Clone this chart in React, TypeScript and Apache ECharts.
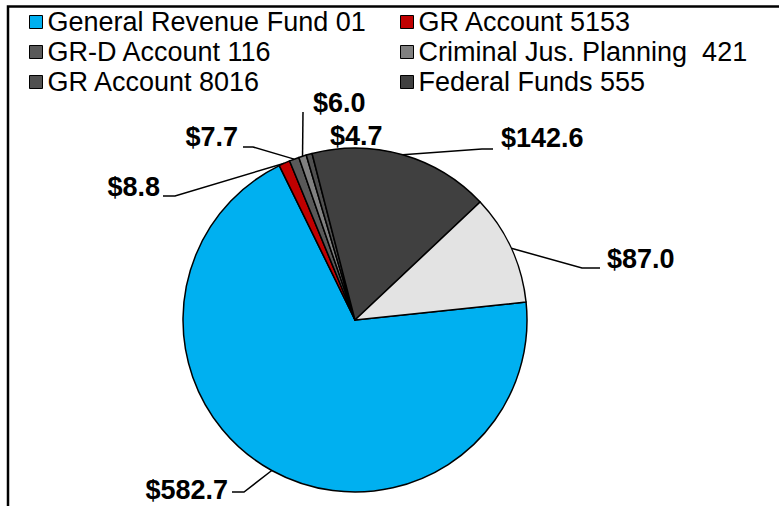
import React, { useEffect, useRef } from "react";
import * as echarts from "echarts";

// ---- data ----
const categories = [
  "General Revenue Fund 01",
  "GR Account 5153",
  "GR-D Account 116",
  "Criminal Jus. Planning  421",
  "GR Account 8016",
  "Federal Funds 555",
  "Other Funds",
];
const values = [582.7, 8.8, 7.7, 6.0, 4.7, 142.6, 87.0];
const labelTexts = ["$582.7", "$8.8", "$7.7", "$6.0", "$4.7", "$142.6", "$87.0"];
const legendCol1 = [categories[0], categories[2], categories[4]];
const legendCol2 = [categories[1], categories[3], categories[5]];

// ---- styles / layout ----
const colors = ["#00B0F0", "#C00000", "#595959", "#808080", "#505050", "#404040", "#E3E3E3"];
const CX = 355;
const CY = 320;
const R = 172;
const START = 6;
// label text anchor and leader-line bends (pixels)
const labelPlace: { tx: number; ty: number; align: string; bends: number[][] | null }[] = [
  { tx: 228, ty: 490, align: "right", bends: [[244, 492], [232, 492]] },
  { tx: 160, ty: 187, align: "right", bends: [[175, 196], [163, 196]] },
  { tx: 238, ty: 137, align: "right", bends: [[253, 147], [243, 147]] },
  { tx: 313, ty: 103, align: "left", bends: [[303, 112]] },
  { tx: 330, ty: 136, align: "left", bends: null },
  { tx: 501, ty: 138, align: "left", bends: [[482, 149], [493, 149]] },
  { tx: 607, ty: 259, align: "left", bends: [[582, 268], [600, 268]] },
];

export default function App() {
  const ref = useRef<HTMLDivElement>(null);
  useEffect(() => {
    if (!ref.current) return;
    const chart = echarts.init(ref.current, null, { renderer: "svg" });
    const total = values.reduce((a, b) => a + b, 0);
    const midAngles: number[] = [];
    let acc = START;
    values.forEach((v) => {
      const span = (v / total) * 360;
      midAngles.push(acc - span / 2);
      acc -= span;
    });

    const font = "'Liberation Sans', Arial, sans-serif";
    const legendBase = {
      orient: "vertical",
      padding: 0,
      itemWidth: 13,
      itemHeight: 13,
      itemGap: 0,
      icon: "rect",
      itemStyle: { borderColor: "#000", borderWidth: 1 },
      textStyle: { fontSize: 27, fontFamily: font, color: "#000", lineHeight: 30 },
      selectedMode: false,
    };

    chart.setOption({
      animation: false,
      backgroundColor: "#fff",
      legend: [
        { ...legendBase, left: 29, top: 7, data: legendCol1 },
        { ...legendBase, left: 400, top: 7, data: legendCol2 },
      ],
      graphic: [
        {
          type: "rect",
          shape: { x: 8, y: 6.5, width: 900, height: 600 },
          style: { fill: "none", stroke: "#000", lineWidth: 2.5 },
          silent: true,
        },
      ],
      series: [
        {
          type: "pie",
          center: [CX, CY],
          radius: R,
          startAngle: START,
          clockwise: true,
          avoidLabelOverlap: false,
          silent: true,
          itemStyle: { borderColor: "#000", borderWidth: 1.5 },
          label: {
            show: true,
            position: "outside",
            fontSize: 27,
            fontWeight: "bold",
            fontFamily: font,
            color: "#000",
            formatter: (p: any) => labelTexts[p.dataIndex],
          },
          labelLine: { show: true, lineStyle: { color: "#000", width: 1.5 } },
          labelLayout: (p: any) => {
            const i = p.dataIndex;
            const lp = labelPlace[i];
            const a = (midAngles[i] * Math.PI) / 180;
            const edge = [CX + R * Math.cos(a), CY - R * Math.sin(a)];
            const out: any = {
              x: lp.tx,
              y: lp.ty,
              align: lp.align,
              verticalAlign: "middle",
            };
            if (lp.bends) out.labelLinePoints = [edge, ...lp.bends];
            return out;
          },
          data: categories.map((name, i) => ({
            name,
            value: values[i],
            itemStyle: { color: colors[i] },
            labelLine: { show: labelPlace[i].bends !== null },
          })),
        },
      ],
    });
    return () => chart.dispose();
  }, []);
  return (
    <div
      ref={ref}
      style={{ position: "absolute", left: 0, top: 0, width: 779, height: 506 }}
    />
  );
}
